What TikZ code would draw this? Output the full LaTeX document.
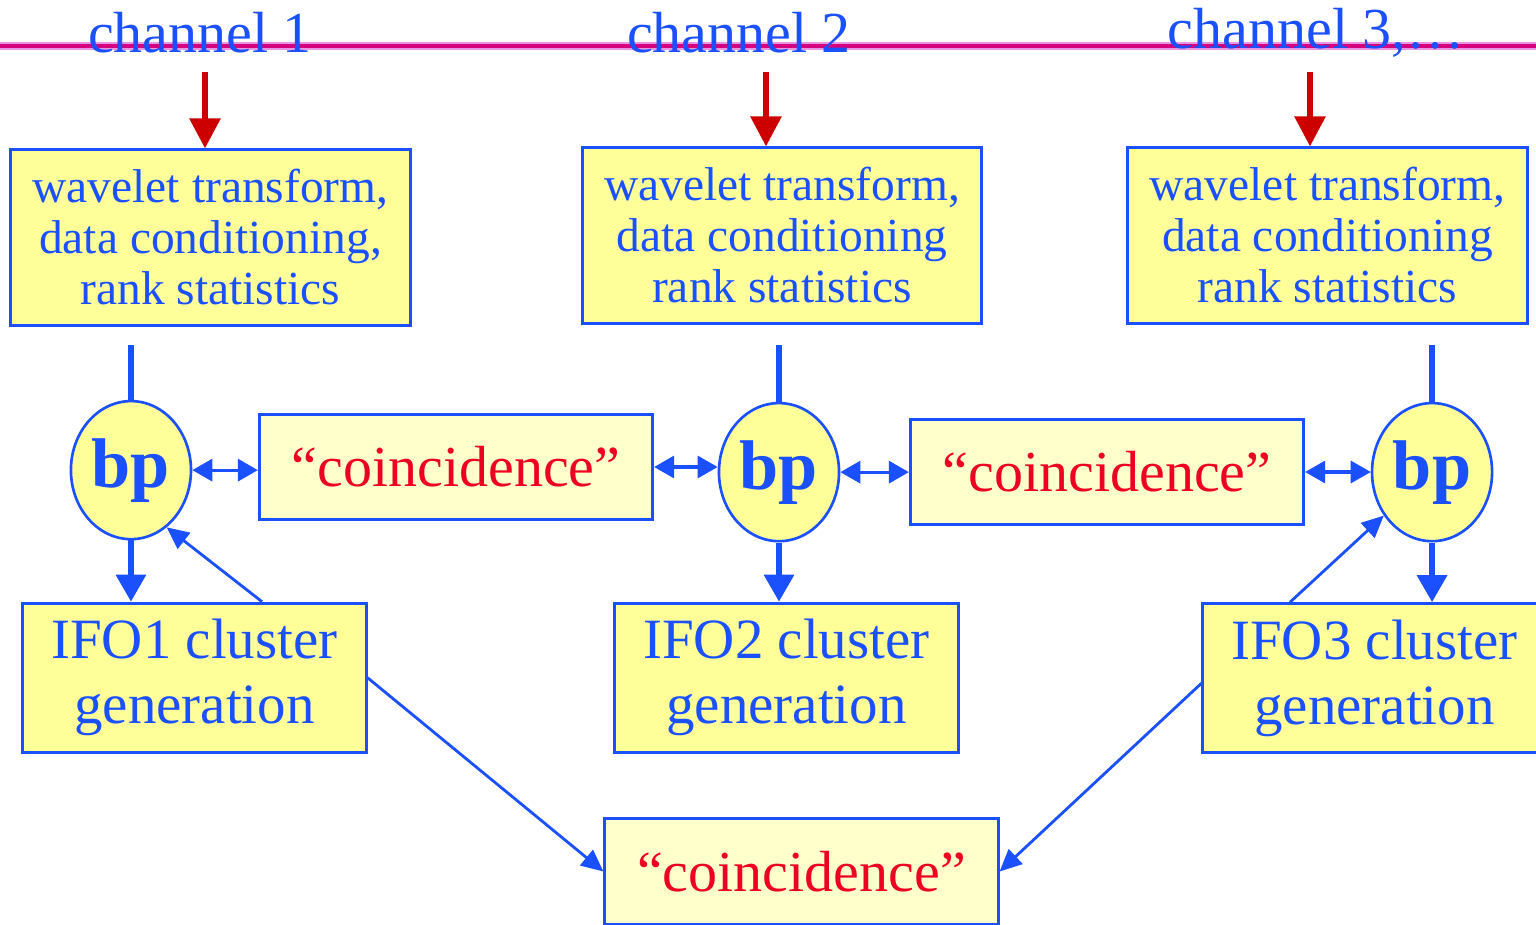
\documentclass[tikz,border=0pt]{standalone}
\usepackage{fontspec}
\setmainfont{Liberation Serif}
\usepackage{tikz}
\usetikzlibrary{arrows.meta,shapes.geometric}

\definecolor{ifoblue}{RGB}{26,80,255}
\definecolor{boxyellow}{RGB}{255,255,153}
\definecolor{paleyellow}{RGB}{255,255,204}
\definecolor{chanred}{RGB}{204,0,0}
\definecolor{coinred}{RGB}{238,0,34}
\definecolor{rulemagenta}{RGB}{214,0,127}
\definecolor{rulepink}{RGB}{230,150,230}

\begin{document}
\begin{tikzpicture}[x=0.01cm,y=-0.01cm,node distance=2cm,
  chan node/.style={text=ifoblue,font=\fontsize{16.5}{19}\selectfont,inner sep=0pt},
  proc node/.style={rectangle,draw=ifoblue,line width=0.85pt,fill=boxyellow,text=ifoblue,
    minimum width=3.99cm,minimum height=1.75cm,align=center,font=\fontsize{13.5}{14.5}\selectfont},
  bp node/.style={ellipse,draw=ifoblue,line width=0.75pt,fill=boxyellow,text=ifoblue,
    minimum width=1.2cm,minimum height=1.38cm,inner sep=0pt,font=\fontsize{20}{22}\selectfont\bfseries},
  coin node/.style={rectangle,draw=ifoblue,line width=0.85pt,fill=paleyellow,text=coinred,
    minimum width=3.93cm,minimum height=1.05cm,font=\fontsize{16.5}{19}\selectfont},
  ifo node/.style={rectangle,draw=ifoblue,line width=0.85pt,fill=boxyellow,text=ifoblue,
    minimum width=3.43cm,minimum height=1.49cm,align=center,font=\fontsize{16.2}{18.5}\selectfont},
  red arrow/.style={-{Triangle[length=0.3cm,width=0.3cm]},draw=chanred,line width=1.6pt},
  stem/.style={draw=ifoblue,line width=1.7pt},
  down arrow/.style={-{Triangle[length=0.27cm,width=0.29cm]},draw=ifoblue,line width=1.7pt},
  link/.style={{Triangle[length=0.2cm,width=0.22cm]}-{Triangle[length=0.2cm,width=0.22cm]},draw=ifoblue,line width=0.9pt},
  back arrow/.style={-{Triangle[length=0.22cm,width=0.2cm]},draw=ifoblue,line width=0.8pt}]

  \useasboundingbox (0,0) rectangle (1536,924);

  % channel rule
  \draw[rulepink,line width=2.4pt] (0,46) -- (1536,46);
  \draw[rulemagenta,line width=1.3pt] (0,46) -- (1536,46);

  \node[chan node] (ch1) at (200,33) {channel 1};
  \node[chan node] (ch2) at (739,33) {channel 2};
  \node[chan node] (ch3) at (1316,33) {channel 3,\ldots};

  \node[proc node] (w1) at (210.5,237.5) {wavelet transform,\\data conditioning,\\rank statistics};
  \node[proc node] (w2) at (782,235.5) {wavelet transform,\\data conditioning\\rank statistics};
  \node[proc node] (w3) at (1327.5,235.5) {wavelet transform,\\data conditioning\\rank statistics};

  \node[bp node] (bp1) [below of=w1,yshift=-0.325cm,xshift=-0.795cm] {bp};
  \node[bp node] (bp2) [below of=w2,yshift=-0.365cm,xshift=-0.03cm] {bp};
  \node[bp node] (bp3) [below of=w3,yshift=-0.365cm,xshift=1.045cm] {bp};

  \node[coin node] (c1) at (456,467) {“coincidence”};
  \node[coin node] (c2) at (1107,472) {“coincidence”};

  \node[ifo node] (ifo1) [below of=bp1,yshift=-0.075cm,xshift=0.635cm] {IFO1 cluster\\generation};
  \node[ifo node] (ifo2) [below of=bp2,yshift=-0.055cm,xshift=0.075cm] {IFO2 cluster\\generation};
  \node[ifo node] (ifo3) [below of=bp3,yshift=-0.06cm,xshift=-0.575cm] {IFO3 cluster\\generation};

  \node[coin node] (c3) at (801.5,871.5) {“coincidence”};

  \coordinate (s1) at (205,72);
  \coordinate (s2) at (766,72);
  \coordinate (s3) at (1310,72);

  \draw[red arrow] (s1) -- (s1 |- w1.north);
  \draw[red arrow] (s2) -- (s2 |- w2.north);
  \draw[red arrow] (s3) -- (s3 |- w3.north);

  \draw[stem,shorten >=0.18cm] (bp1.north) -- (bp1.north |- w1.south);
  \draw[stem,shorten >=0.2cm] (bp2.north) -- (bp2.north |- w2.south);
  \draw[stem,shorten >=0.2cm] (bp3.north) -- (bp3.north |- w3.south);

  \draw[link] (bp1.east) -- (bp1.east -| c1.west);
  \draw[link] (c1.east) -- (c1.east -| bp2.west);
  \draw[link] (bp2.east) -- (bp2.east -| c2.west);
  \draw[link] (c2.east) -- (c2.east -| bp3.west);

  \draw[down arrow] (bp1.south) -- (bp1.south |- ifo1.north);
  \draw[down arrow] (bp2.south) -- (bp2.south |- ifo2.north);
  \draw[down arrow] (bp3.south) -- (bp3.south |- ifo3.north);

  \draw[back arrow] ([xshift=0.675cm]ifo1.north) -- (bp1.-58);
  \draw[back arrow] ([xshift=-0.845cm]ifo3.north) -- (bp3.222);

  \draw[back arrow] (ifo1.east) -- (c3.west);
  \draw[back arrow] ([yshift=-0.05cm]ifo3.west) -- (c3.east);
\end{tikzpicture}
\end{document}
